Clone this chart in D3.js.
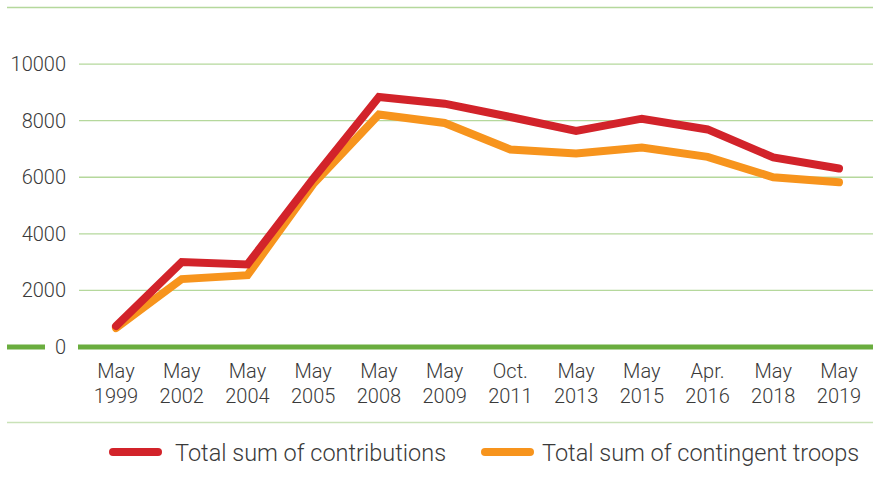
<!DOCTYPE html>
<html lang="en">
<head>
<meta charset="UTF-8">
<title>Contributions and contingent troops</title>
<script src="https://d3js.org/d3.v7.min.js"></script>
<style>
  body { margin: 0; background: #fff; }
  text { font-family: Roboto, "Noto Sans", sans-serif; font-weight: 300; fill: #3a3a3a; }
</style>
</head>
<body>
<div id="chart"></div>
<script>
// data
const months = ["May", "May", "May", "May", "May", "May", "Oct.", "May", "May", "Apr.", "May", "May"];
const years  = ["1999", "2002", "2004", "2005", "2008", "2009", "2011", "2013", "2015", "2016", "2018", "2019"];
const contributions = [740, 3000, 2920, 5950, 8840, 8600, 8130, 7640, 8070, 7690, 6700, 6310];
const troops        = [670, 2400, 2540, 5760, 8220, 7920, 6980, 6840, 7050, 6720, 6000, 5820];
const yTicks = [0, 2000, 4000, 6000, 8000, 10000];
const seriesNames = ["Total sum of contributions", "Total sum of contingent troops"];
const colors = ["#d2232a", "#f7941d"];

const width = 873, height = 486;
const cats = years.map((y, i) => months[i] + " " + y);

const svg = d3.select("#chart").append("svg")
    .attr("width", width)
    .attr("height", height);

const x = d3.scalePoint().domain(cats).range([116, 839]);
const y = d3.scaleLinear().domain([0, 12000]).range([347, 7.5]);

// top border + gridlines
svg.append("line")
    .attr("x1", 7).attr("x2", width)
    .attr("y1", y(12000)).attr("y2", y(12000))
    .attr("stroke", "#b5d89c").attr("stroke-width", 1.5);

svg.append("g").selectAll("line")
    .data(yTicks.filter(d => d > 0))
    .join("line")
    .attr("x1", 79).attr("x2", width)
    .attr("y1", d => y(d)).attr("y2", d => y(d))
    .attr("stroke", "#b5d89c").attr("stroke-width", 1.3);

// y labels
svg.append("g").selectAll("text")
    .data(yTicks)
    .join("text")
    .attr("x", 66)
    .attr("y", d => y(d))
    .attr("dy", "0.35em")
    .attr("text-anchor", "end")
    .attr("font-size", 20)
    .text(d => d);

// zero line, broken around the "0" label
svg.append("line")
    .attr("x1", 7).attr("x2", 45)
    .attr("y1", y(0)).attr("y2", y(0))
    .attr("stroke", "#6aad3f").attr("stroke-width", 5);
svg.append("line")
    .attr("x1", 78).attr("x2", width)
    .attr("y1", y(0)).attr("y2", y(0))
    .attr("stroke", "#6aad3f").attr("stroke-width", 5);

// x labels (two lines)
const xl = svg.append("g").selectAll("text")
    .data(cats)
    .join("text")
    .attr("x", d => x(d))
    .attr("y", 378)
    .attr("text-anchor", "middle")
    .attr("font-size", 20);
xl.append("tspan").attr("x", d => x(d)).text((d, i) => months[i]);
xl.append("tspan").attr("x", d => x(d)).attr("dy", 25).text((d, i) => years[i]);

// bottom separator
svg.append("line")
    .attr("x1", 7).attr("x2", width)
    .attr("y1", 422.5).attr("y2", 422.5)
    .attr("stroke", "#c9e2b8").attr("stroke-width", 1.5);

// lines: troops under contributions
const line = d3.line()
    .x((d, i) => x(cats[i]))
    .y(d => y(d));

[troops, contributions].forEach((s, k) => {
    svg.append("path")
        .datum(s)
        .attr("fill", "none")
        .attr("stroke", colors[1 - k])
        .attr("stroke-width", 8)
        .attr("stroke-linecap", "round")
        .attr("stroke-linejoin", "miter")
        .attr("d", line);
});

// legend
const legendX = [113, 485];
const legendTextX = [175, 542];
seriesNames.forEach((name, i) => {
    svg.append("line")
        .attr("x1", legendX[i]).attr("x2", legendX[i] + 45)
        .attr("y1", 452).attr("y2", 452)
        .attr("stroke", colors[i])
        .attr("stroke-width", 8)
        .attr("stroke-linecap", "round");
    svg.append("text")
        .attr("x", legendTextX[i])
        .attr("y", 461)
        .attr("font-size", 23.5)
        .text(name);
});
</script>
</body>
</html>
